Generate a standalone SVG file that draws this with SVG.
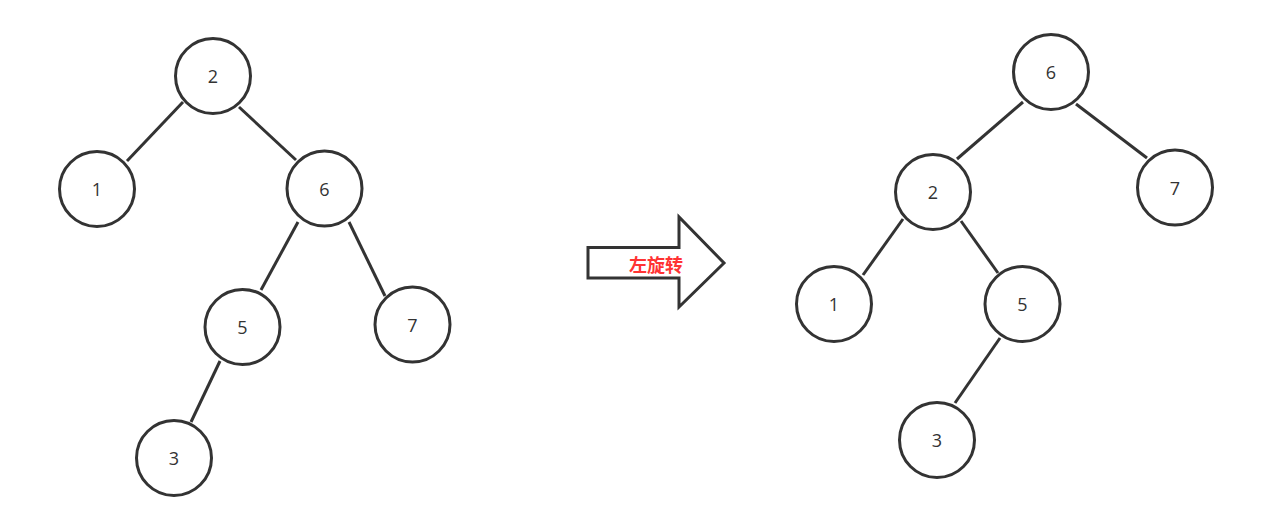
<svg xmlns="http://www.w3.org/2000/svg" width="1263" height="521" viewBox="0 0 1263 521">
<style>
.n{fill:#fff;stroke:#333;stroke-width:3}
.t{font-family:"Open Sans","Noto Sans",sans-serif;font-size:18px;fill:#333;text-anchor:middle;dominant-baseline:central}
.e line{stroke:#333;stroke-width:3;stroke-linecap:butt}
.lbl{font-family:"Noto Sans CJK SC",sans-serif;font-size:18px;font-weight:bold;fill:#ff3333;text-anchor:middle;dominant-baseline:central}
</style>
<rect width="1263" height="521" fill="#fff"/>
<g id="connectors" class="e">
<line x1="183" y1="102" x2="127" y2="161"/>
<line x1="239" y1="107" x2="296" y2="160"/>
<line x1="298" y1="222" x2="261" y2="290"/>
<line x1="349" y1="222" x2="385" y2="296"/>
<line x1="220" y1="361" x2="191" y2="422"/>
<line x1="1023" y1="102" x2="957" y2="159"/>
<line x1="1076" y1="104" x2="1147" y2="158"/>
<line x1="903" y1="219" x2="863" y2="275"/>
<line x1="961" y1="221" x2="998" y2="273"/>
<line x1="1000" y1="338" x2="955" y2="403"/>
</g>
<g id="L2"><circle class="n" cx="213" cy="76" r="37.5"/><text class="t" x="213" y="76">2</text></g>
<g id="L1"><circle class="n" cx="97" cy="189" r="37.5"/><text class="t" x="97" y="189">1</text></g>
<g id="L6"><circle class="n" cx="324.5" cy="188.5" r="37.5"/><text class="t" x="324.5" y="188.5">6</text></g>
<g id="L5"><circle class="n" cx="242.5" cy="327" r="37.5"/><text class="t" x="242.5" y="327">5</text></g>
<g id="L7"><circle class="n" cx="412.5" cy="324.5" r="37.5"/><text class="t" x="412.5" y="324.5">7</text></g>
<g id="L3"><circle class="n" cx="174" cy="458" r="37.5"/><text class="t" x="174" y="458">3</text></g>
<g id="arrow"><path d="M588 247.5 H679 V217 L724 263 L679 307 V278 H588 Z" fill="#fff" stroke="#333" stroke-width="3" stroke-linejoin="miter"/><text class="lbl" x="656" y="264">左旋转</text></g>
<g id="R6"><circle class="n" cx="1051" cy="72" r="37.5"/><text class="t" x="1051" y="72">6</text></g>
<g id="R2"><circle class="n" cx="933" cy="192" r="37.5"/><text class="t" x="933" y="192">2</text></g>
<g id="R7"><circle class="n" cx="1175" cy="187.5" r="37.5"/><text class="t" x="1175" y="187.5">7</text></g>
<g id="R1"><circle class="n" cx="834" cy="304" r="37.5"/><text class="t" x="834" y="304">1</text></g>
<g id="R5"><circle class="n" cx="1022.5" cy="304" r="37.5"/><text class="t" x="1022.5" y="304">5</text></g>
<g id="R3"><circle class="n" cx="937" cy="440" r="37.5"/><text class="t" x="937" y="440">3</text></g>
</svg>
